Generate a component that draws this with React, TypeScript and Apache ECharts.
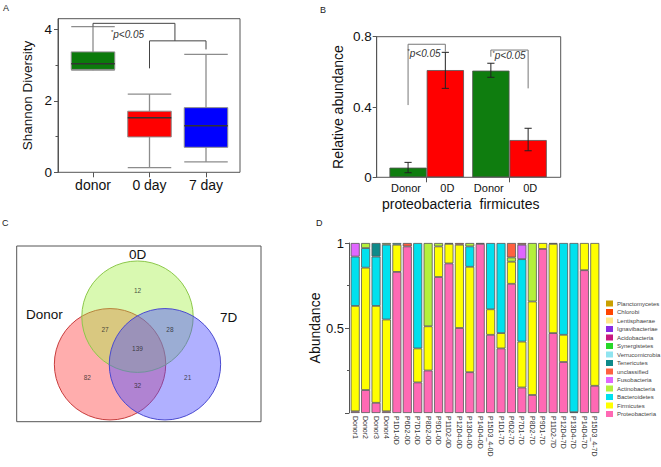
import React, { useEffect, useRef } from "react";
import * as echarts from "echarts";

// ---------- Panel A: Shannon diversity box plot ----------
const diversityGroups = ["donor", "0 day", "7 day"];
const diversityMin = [2.86, 0.13, 0.29];
const diversityQ1 = [2.88, 0.99, 0.7];
const diversityMedian = [3.04, 1.53, 1.3];
const diversityQ3 = [3.37, 1.71, 1.81];
const diversityMax = [4.08, 2.19, 3.3];
const diversityColors = ["#0b7a0b", "#ff0000", "#0000ff"];
const diversityTicks = [0, 2, 4];
const diversityMinorTicks = [1, 3];
const bracketA1 = [[0, 4.08], [0, 4.17], [1.45, 4.17], [1.45, 3.68]];
const bracketA2 = [[1, 2.91], [1, 3.68], [2, 3.68], [2, 3.44]];

// ---------- Panel B: relative abundance bars ----------
const phyla = ["proteobacteria", "firmicutes"];
const groupLabels = ["Donor", "0D", "Donor", "0D"];
const donorMean = [0.055, 0.607];
const donorLow = [0.026, 0.569];
const donorHigh = [0.085, 0.649];
const day0Mean = [0.61, 0.212];
const day0Low = [0.506, 0.151];
const day0High = [0.711, 0.279];
const abundanceTicks = [0, 0.4, 0.8];
const bracketB1 = [[-0.225, 0.411], [-0.225, 0.757], [0.225, 0.757], [0.225, 0.715]];
const bracketB2 = [[0.775, 0.686], [0.775, 0.724], [1.225, 0.724], [1.225, 0.506]];
const pText = "*p<0.05";

// ---------- Panel C: Venn ----------
const vennSets = ["Donor", "0D", "7D"];
const vennRegionSets = [[0], [1], [2], [0, 1], [1, 2], [0, 2], [0, 1, 2]];
const vennCounts = [82, 12, 21, 27, 28, 32, 139];

// ---------- Panel D: stacked composition ----------
const samples = [
  "Donor1", "Donor2", "Donor3", "Donor4",
  "P1D1-0D", "P6D2-0D", "P7D1-0D", "P8D2-0D", "P9D1-0D", "P11D2-0D", "P12D4-0D", "P13D4-0D", "P14D4-0D", "P15D3_4-0D",
  "P1D1-7D", "P6D2-7D", "P7D1-7D", "P8D2-7D", "P9D1-7D", "P11D2-7D", "P12D4-7D", "P13D4-7D", "P14D4-7D", "P15D3_4-7D",
];
const proteobacteria = [0.01, 0.135, 0.06, 0.01, 0.83, 0.98, 0.18, 0.25, 0.8, 0.88, 0.5, 0.24, 0.995, 0.46, 0.38, 0.76, 0.15, 0.106, 0.965, 0.47, 0.3, 0.005, 0.84, 0.16];
const firmicutes = [0.62, 0.72, 0.57, 0.54, 0.16, 0, 0.2, 0.26, 0.18, 0.115, 0.49, 0.62, 0, 0.15, 0.09, 0.13, 0.27, 0.55, 0.035, 0.525, 0.16, 0, 0.16, 0.84];
const bacteroidetes = [0.29, 0.115, 0.29, 0.44, 0.01, 0, 0.62, 0, 0, 0.005, 0, 0.12, 0.005, 0.39, 0.53, 0, 0.485, 0, 0, 0, 0.54, 0.995, 0, 0];
const actinobacteria = [0, 0.03, 0, 0.01, 0, 0, 0, 0.49, 0.02, 0, 0, 0.02, 0, 0, 0, 0.025, 0, 0.344, 0, 0, 0, 0, 0, 0];
const fusobacteria = [0.08, 0, 0, 0, 0, 0, 0, 0, 0, 0, 0, 0, 0, 0, 0, 0, 0.085, 0, 0, 0, 0, 0, 0, 0];
const unclassified = [0, 0, 0, 0, 0, 0.02, 0, 0, 0, 0, 0.01, 0, 0, 0, 0, 0.085, 0.01, 0, 0, 0.005, 0, 0, 0, 0];
const tenericutes = [0, 0, 0.08, 0, 0, 0, 0, 0, 0, 0, 0, 0, 0, 0, 0, 0, 0, 0, 0, 0, 0, 0, 0, 0];
const noneDetected = samples.map(() => 0);
const taxa = [
  "Proteobacteria", "Firmicutes", "Bacteroidetes", "Actinobacteria", "Fusobacteria", "unclassified", "Tenericutes",
  "Verrucomicrobia", "Synergistetes", "Acidobacteria", "Ignavibacteriae", "Lentisphaerae", "Chlorobi", "Planctomycetes",
];
const taxaValues = [
  proteobacteria, firmicutes, bacteroidetes, actinobacteria, fusobacteria, unclassified, tenericutes,
  noneDetected, noneDetected, noneDetected, noneDetected, noneDetected, noneDetected, noneDetected,
];
const taxaColors = [
  "#ff69b4", "#ffff00", "#00e1ee", "#b4f03c", "#e066ff", "#ff6040", "#0e8a8a",
  "#90e4f0", "#28d828", "#c8177f", "#8a2be2", "#ffe88a", "#ff4500", "#c9a000",
];
const compositionLabelTicks = [0.5, 1];
const compositionTicks = [0, 0.5, 1];
const compositionMinorTicks = [0.25, 0.75];

// ---------- layout constants ----------
const FONT = "Liberation Sans, Arial, sans-serif";
const AX = "#555";
const VENN_CENTER = [120.8, 102.4];
const VENN_SPREAD = 31.7;
const VENN_RADIUS = 55.7;
const VENN_ANGLES = [150, 270, 30];
const VENN_FILLS = ["rgba(255,60,60,0.42)", "rgba(160,240,60,0.4)", "rgba(80,80,255,0.45)"];
const VENN_STROKES = ["#c83c3c", "#8cc84a", "#4a4ad0"];
const VENN_NAME_POS = [
  [44.3, 314.3],
  [137.7, 254.3],
  [228.5, 317.7],
];

const rad = (d: number) => (d * Math.PI) / 180;

function vennRegionPos(members: number[]) {
  if (members.length === 3) return [VENN_CENTER[0], VENN_CENTER[1]];
  let ang: number;
  let dist: number;
  if (members.length === 1) {
    ang = VENN_ANGLES[members[0]];
    dist = 58;
  } else {
    const missing = [0, 1, 2].find((k) => !members.includes(k)) as number;
    ang = VENN_ANGLES[missing] + 180;
    dist = 37.5;
  }
  return [VENN_CENTER[0] + dist * Math.cos(rad(ang)), VENN_CENTER[1] + dist * Math.sin(rad(ang))];
}

const boxRender = (params: any, api: any) => {
  const i = api.value(0);
  const lo = api.coord([i, api.value(1)]);
  const q1 = api.coord([i, api.value(2)]);
  const md = api.coord([i, api.value(3)]);
  const q3 = api.coord([i, api.value(4)]);
  const hi = api.coord([i, api.value(5)]);
  const w = api.size([1, 0])[0] * 0.77;
  const x = lo[0];
  const grey = "#8c8c8c";
  return {
    type: "group",
    children: [
      { type: "line", shape: { x1: x, y1: hi[1], x2: x, y2: lo[1] }, style: { stroke: grey, lineWidth: 1.3 } },
      { type: "line", shape: { x1: x - w / 2, y1: hi[1], x2: x + w / 2, y2: hi[1] }, style: { stroke: grey, lineWidth: 1.3 } },
      { type: "line", shape: { x1: x - w / 2, y1: lo[1], x2: x + w / 2, y2: lo[1] }, style: { stroke: grey, lineWidth: 1.3 } },
      {
        type: "rect",
        shape: { x: x - w / 2, y: q3[1], width: w, height: q1[1] - q3[1] },
        style: { fill: diversityColors[params.dataIndex], stroke: grey, lineWidth: 1 },
      },
      { type: "line", shape: { x1: x - w / 2, y1: md[1], x2: x + w / 2, y2: md[1] }, style: { stroke: "#333", lineWidth: 1.5 } },
    ],
  };
};

const errRender = (_params: any, api: any) => {
  const i = api.value(0);
  const side = api.value(3);
  const band = api.size([1, 0])[0];
  const lo = api.coord([i, api.value(1)]);
  const hi = api.coord([i, api.value(2)]);
  const x = lo[0] + side * band * 0.225;
  const c = 3.6;
  const st = { stroke: "#222", lineWidth: 1 };
  return {
    type: "group",
    children: [
      { type: "line", shape: { x1: x, y1: hi[1], x2: x, y2: lo[1] }, style: st },
      { type: "line", shape: { x1: x - c, y1: hi[1], x2: x + c, y2: hi[1] }, style: st },
      { type: "line", shape: { x1: x - c, y1: lo[1], x2: x + c, y2: lo[1] }, style: st },
    ],
  };
};

const bracketSeries = (data: number[][], xi: number, yi: number, color: string) => ({
  type: "line",
  xAxisIndex: xi,
  yAxisIndex: yi,
  data,
  symbol: "none",
  silent: true,
  lineStyle: { color, width: 1 },
  z: 5,
});

const pLabel = (x: number, y: number) => ({
  type: "text",
  x,
  y,
  style: {
    text: "{s|*}{t|" + pText.slice(1) + "}",
    align: "center",
    verticalAlign: "middle",
    rich: {
      s: { fontSize: 6, fill: "#333", fontFamily: FONT, padding: [0, 0, 5, 0] },
      t: { fontSize: 10, fontStyle: "italic", fill: "#333", fontFamily: FONT },
    },
  },
  z: 20,
});

const panelLetter = (t: string, x: number, y: number) => ({
  type: "text",
  x,
  y,
  style: { text: t, fontSize: 9, fill: "#222", fontFamily: FONT, align: "left", verticalAlign: "middle" },
  z: 20,
});

function buildOption() {
  const hiddenValueAxis = (gridIndex: number, min: number, max: number, extra: any = {}) => ({
    type: "value",
    gridIndex,
    min,
    max,
    show: false,
    axisLine: { onZero: false },
    splitLine: { show: false },
    ...extra,
  });

  const option: any = {
    animation: false,
    textStyle: { fontFamily: FONT },
    grid: [
      { left: 64.75, top: 18.7, width: 169.5, height: 153.6, outerBoundsMode: "none", containLabel: false },
      { left: 385.3, top: 36.7, width: 165.6, height: 140.6, outerBoundsMode: "none", containLabel: false },
      {
        left: 16.7, top: 246, width: 244.3, height: 175.7, show: true, borderColor: AX, borderWidth: 1,
        backgroundColor: "transparent", outerBoundsMode: "none", containLabel: false,
      },
      { left: 350, top: 243, width: 250, height: 170, outerBoundsMode: "none", containLabel: false },
    ],
    xAxis: [
      {
        type: "category", gridIndex: 0, data: diversityGroups, position: "bottom",
        axisLine: { show: false, onZero: false },
        axisTick: { show: true, alignWithLabel: true, length: 5, lineStyle: { color: AX } },
        axisLabel: { fontSize: 14, color: "#111", margin: 6, interval: 0 },
        splitLine: { show: false },
      },
      hiddenValueAxis(0, -0.5, 2.5),
      {
        type: "category", gridIndex: 1, data: phyla, position: "bottom",
        axisLine: { show: false, onZero: false },
        axisTick: { show: true, alignWithLabel: true, length: 5, lineStyle: { color: AX } },
        axisLabel: { fontSize: 14, color: "#111", margin: 20, interval: 0, hideOverlap: false },
        splitLine: { show: false },
      },
      {
        type: "category", gridIndex: 1, data: groupLabels, position: "bottom",
        axisLine: { show: false, onZero: false },
        axisTick: { show: false },
        axisLabel: { fontSize: 11, color: "#111", margin: 5, interval: 0 },
        splitLine: { show: false },
      },
      hiddenValueAxis(1, -0.5, 1.5),
      hiddenValueAxis(2, 0, 244.3),
      {
        type: "category", gridIndex: 3, data: samples, position: "bottom",
        axisLine: { show: false, onZero: false },
        axisTick: { show: false },
        axisLabel: { rotate: -90, interval: 0, fontSize: 7, color: "#333", margin: 3 },
        splitLine: { show: false },
      },
    ],
    yAxis: [
      {
        type: "value", gridIndex: 0, min: 0, max: 4.3, offset: 6.75, position: "left",
        axisLine: { show: true, onZero: false, lineStyle: { color: AX } },
        axisTick: { show: true, length: 4, customValues: diversityTicks, lineStyle: { color: AX } },
        axisLabel: { customValues: diversityTicks, fontSize: 13.5, color: "#111", margin: 6 },
        splitLine: { show: false },
        name: "Shannon Diversity", nameLocation: "middle", nameGap: 24,
        nameTextStyle: { fontSize: 13.5, color: "#111" },
      },
      {
        type: "value", gridIndex: 0, min: 0, max: 4.3, offset: 6.75, position: "left",
        axisLine: { show: false, onZero: false },
        axisTick: { show: true, length: 2.5, customValues: diversityMinorTicks, lineStyle: { color: AX } },
        axisLabel: { show: false },
        splitLine: { show: false },
      },
      {
        type: "value", gridIndex: 1, min: 0, max: 0.8, offset: 8.6, position: "left",
        axisLine: { show: true, onZero: false, lineStyle: { color: AX } },
        axisTick: { show: true, length: 4, customValues: abundanceTicks, lineStyle: { color: AX } },
        axisLabel: { customValues: abundanceTicks, fontSize: 13.5, color: "#111", margin: 5 },
        splitLine: { show: false },
        name: "Relative abundance", nameLocation: "middle", nameGap: 32,
        nameTextStyle: { fontSize: 14, color: "#111" },
      },
      hiddenValueAxis(2, 0, 175.7, { inverse: true }),
      {
        type: "value", gridIndex: 3, min: 0, max: 1, offset: 1, position: "left",
        axisLine: { show: true, onZero: false, lineStyle: { color: AX } },
        axisTick: { show: true, length: 4, customValues: compositionTicks, lineStyle: { color: AX } },
        axisLabel: { customValues: compositionLabelTicks, fontSize: 13, color: "#111", margin: 5 },
        splitLine: { show: false },
        name: "Abundance", nameLocation: "middle", nameGap: 26,
        nameTextStyle: { fontSize: 14, color: "#111" },
      },
      {
        type: "value", gridIndex: 3, min: 0, max: 1, offset: 1, position: "left",
        axisLine: { show: false, onZero: false },
        axisTick: { show: true, length: 2, customValues: compositionMinorTicks, lineStyle: { color: AX } },
        axisLabel: { show: false },
        splitLine: { show: false },
      },
    ],
    legend: {
      data: taxa.slice().reverse(),
      orient: "vertical",
      left: 606,
      top: 300,
      itemWidth: 7,
      itemHeight: 6,
      itemGap: 1.5,
      icon: "rect",
      selectedMode: false,
      padding: 0,
      itemStyle: { borderWidth: 0 },
      textStyle: { fontSize: 6, color: "#444", padding: [0, 0, 0, -1], lineHeight: 7 },
    },
    graphic: [
      panelLetter("A", 3, 8),
      panelLetter("B", 320, 10),
      panelLetter("C", 2, 223),
      panelLetter("D", 316, 223),
      { type: "rect", shape: { x: 58, y: 18.7, width: 182, height: 153.6 }, style: { fill: "none", stroke: AX, lineWidth: 1 }, z: 4 },
      { type: "rect", shape: { x: 376.7, y: 36.7, width: 184, height: 140.6 }, style: { fill: "none", stroke: AX, lineWidth: 1 }, z: 4 },
      pLabel(127.5, 34.5),
      pLabel(424, 53.5),
      pLabel(509, 55),
      ...vennSets.map((name, k) => ({
        type: "text",
        x: VENN_NAME_POS[k][0],
        y: VENN_NAME_POS[k][1],
        style: { text: name, fontSize: 13.5, fill: "#111", fontFamily: FONT, align: "center", verticalAlign: "middle" },
        z: 20,
      })),
    ],
    series: [
      {
        type: "custom",
        name: "diversity",
        xAxisIndex: 0,
        yAxisIndex: 0,
        renderItem: boxRender,
        encode: { x: 0, y: [1, 2, 3, 4, 5] },
        data: diversityGroups.map((_, i) => [i, diversityMin[i], diversityQ1[i], diversityMedian[i], diversityQ3[i], diversityMax[i]]),
        z: 3,
      },
      bracketSeries(bracketA1, 1, 0, "#444"),
      bracketSeries(bracketA2, 1, 0, "#444"),
      {
        type: "bar",
        name: "Donor",
        xAxisIndex: 2,
        yAxisIndex: 2,
        data: donorMean,
        barWidth: "45%",
        barGap: "0%",
        itemStyle: { color: "#0f7d0f", borderColor: "#555", borderWidth: 0.8 },
      },
      {
        type: "bar",
        name: "0D",
        xAxisIndex: 2,
        yAxisIndex: 2,
        data: day0Mean,
        barWidth: "45%",
        barGap: "0%",
        itemStyle: { color: "#ff0000", borderColor: "#555", borderWidth: 0.8 },
      },
      {
        type: "custom",
        name: "errors",
        xAxisIndex: 2,
        yAxisIndex: 2,
        renderItem: errRender,
        encode: { x: 0, y: [1, 2] },
        data: [
          ...phyla.map((_, i) => [i, donorLow[i], donorHigh[i], -1]),
          ...phyla.map((_, i) => [i, day0Low[i], day0High[i], 1]),
        ],
        z: 6,
      },
      bracketSeries(bracketB1, 4, 2, "#777"),
      bracketSeries(bracketB2, 4, 2, "#777"),
      {
        type: "scatter",
        name: "venn",
        xAxisIndex: 5,
        yAxisIndex: 3,
        symbol: "circle",
        symbolSize: VENN_RADIUS * 2,
        silent: true,
        data: vennSets.map((name, k) => ({
          name,
          value: [
            VENN_CENTER[0] + VENN_SPREAD * Math.cos(rad(VENN_ANGLES[k])),
            VENN_CENTER[1] + VENN_SPREAD * Math.sin(rad(VENN_ANGLES[k])),
          ],
          itemStyle: { color: VENN_FILLS[k], borderColor: VENN_STROKES[k], borderWidth: 1, opacity: 1 },
        })),
        z: 2,
      },
      {
        type: "scatter",
        name: "vennCounts",
        xAxisIndex: 5,
        yAxisIndex: 3,
        symbolSize: 2,
        silent: true,
        itemStyle: { color: "rgba(0,0,0,0)" },
        label: {
          show: true,
          position: "inside",
          formatter: (p: any) => String(p.value[2]),
          fontSize: 6.5,
          color: "#222",
        },
        labelLayout: { hideOverlap: false },
        data: vennRegionSets.map((m, r) => {
          const pos = vennRegionPos(m);
          return [pos[0], pos[1], vennCounts[r]];
        }),
        z: 3,
      },
      ...taxa.map((name, t) => ({
        type: "bar",
        name,
        stack: "composition",
        xAxisIndex: 6,
        yAxisIndex: 4,
        barWidth: 9,
        data: taxaValues[t].map((v) => (v > 0 ? v : "-")),
        itemStyle: { color: taxaColors[t], borderColor: "#555", borderWidth: 0.8 },
      })),
    ],
  };
  return option;
}

export default function App() {
  const ref = useRef<HTMLDivElement>(null);
  useEffect(() => {
    if (!ref.current) return;
    const chart = echarts.init(ref.current, undefined, { renderer: "svg" });
    chart.setOption(buildOption());
    return () => chart.dispose();
  }, []);
  return <div ref={ref} style={{ position: "absolute", left: 0, top: 0, width: 661, height: 467, background: "#fff" }} />;
}
